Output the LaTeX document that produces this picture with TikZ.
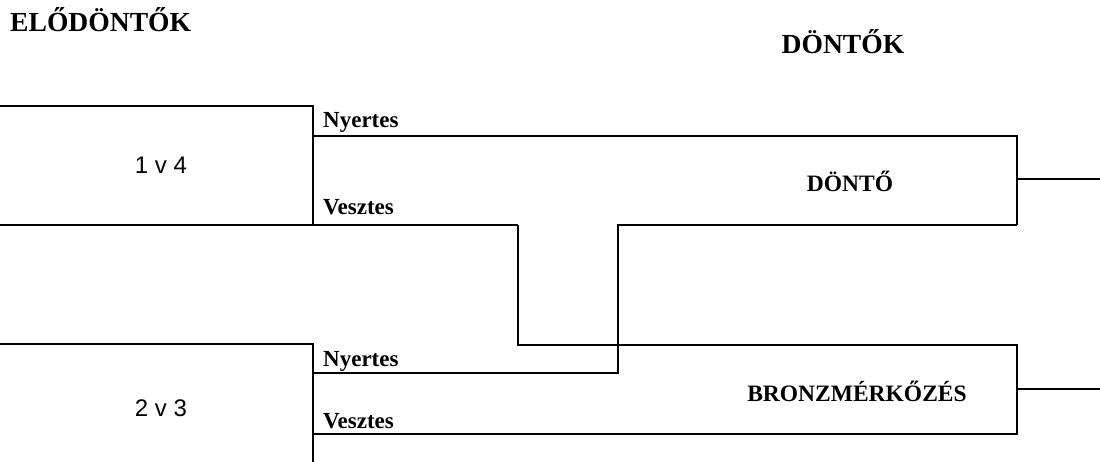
\documentclass[tikz,border=0pt]{standalone}
\usepackage{fontspec}
\setmainfont{Liberation Serif}
\newfontfamily\labelsans{Liberation Sans}
\begin{document}
\begin{tikzpicture}[x=1pt,y=-1pt,
  heavy/.style={line width=2.2pt,line join=miter},
  light/.style={line width=1.3pt},
  heading/.style={font=\fontsize{27.6}{27.6}\selectfont\bfseries,inner sep=0pt},
  title/.style={font=\fontsize{23.5}{23.5}\selectfont\bfseries,inner sep=0pt},
  tag/.style={font=\fontsize{23}{23}\selectfont\bfseries,inner sep=0pt,anchor=base west},
  pair/.style={font=\labelsans\fontsize{24}{24}\selectfont,inner sep=0pt}]
\useasboundingbox (0,0) rectangle (1100,462);

% corner points of the brackets
\coordinate (s1tl) at (0,106);
\coordinate (s1tr) at (313,106);
\coordinate (s1br) at (313,225);
\coordinate (s1bl) at (0,225);
\coordinate (s2tl) at (0,344);
\coordinate (s2tr) at (313,344);
\coordinate (s2b) at (313,462);
\coordinate (w1) at (313,136);
\coordinate (w2) at (313,373);
\coordinate (l2) at (313,434);
\coordinate (fTR) at (1017,136);
\coordinate (fBR) at (1017,225);
\coordinate (fOut) at (1017,179);
\coordinate (fEnd) at (1100,179);
\coordinate (w2turn) at (618,373);
\coordinate (w2up) at (618,225);
\coordinate (l1turn) at (518,225);
\coordinate (l1down) at (518,345);
\coordinate (bTL) at (720,345);
\coordinate (bTR) at (1017,345);
\coordinate (bBL) at (720,434);
\coordinate (bBR) at (1017,434);
\coordinate (bOut) at (1017,389);
\coordinate (bEnd) at (1100,389);

% semifinal brackets
\draw[heavy] (s1tl) -- (s1tr) -- (s1br) -- (s1bl);
\draw[heavy] (s2tl) -- (s2tr) -- (s2b);

% winners into the final
\draw[heavy] (w1) -- (fTR) -- (fBR);
\draw[heavy] (w2) -- (w2turn) -- (w2up) -- (fBR);
\draw[light] (fOut) -- (fEnd);

% losers into the bronze match
\draw[heavy] (s1br) -- (l1turn);
\draw[light] (l1turn) -- (l1down) -- (bTL);
\draw[heavy] (bTL) -- (bTR) -- (bBR) -- (bBL);
\draw[light] (l2) -- (bBL);
\draw[light] (bOut) -- (bEnd);

% texts
\node[heading,anchor=base west] (hsemi) at (10,32) {ELŐDÖNTŐK};
\node[heading,anchor=base] (hfinal) at (843,54) {DÖNTŐK};
\node[pair] (m14) at (161,165) {1 v 4};
\node[pair] (m23) at (161,408) {2 v 3};
\node[tag] (n1) at (323,128) {Nyertes};
\node[tag] (v1) at (323,215) {Vesztes};
\node[tag] (n2) at (323,366) {Nyertes};
\node[tag] (v2) at (323,428) {Vesztes};
\node[title] (final) at (850,181) {DÖNTŐ};
\node[title] (bronze) at (857,391) {BRONZMÉRKŐZÉS};
\end{tikzpicture}
\end{document}
